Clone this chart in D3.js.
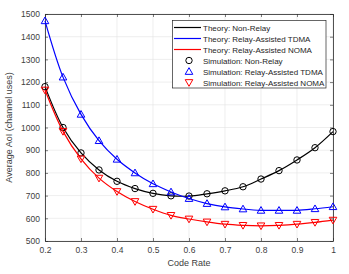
<!DOCTYPE html>
<html>
<head>
<meta charset="utf-8">
<script src="https://cdn.jsdelivr.net/npm/d3@7"></script>
<style>
  body { margin: 0; background: #fff; }
  svg { display: block; font-family: "Liberation Sans", Arial, sans-serif; }
</style>
</head>
<body>
<div id="chart"></div>
<script>
const width = 349;
const height = 274;
const margin = { top: 14, right: 16, bottom: 33, left: 45 };

const codeRate = [0.2, 0.25, 0.3, 0.35, 0.4, 0.45, 0.5, 0.55, 0.6, 0.65, 0.7, 0.75, 0.8, 0.85, 0.9, 0.95, 1.0];
const nonRelay = [1180, 1000, 888, 813, 763, 731, 710, 699, 698, 708, 721, 739, 773, 810, 857, 911, 982];
const relayTDMA = [1470, 1222, 1058, 942, 860, 800, 752, 716, 687, 665, 650, 641, 635, 635, 635, 642, 651];
const relayNOMA = [1165, 983, 862, 777, 718, 674, 640, 613, 597, 584, 574, 569, 567, 569, 574, 582, 592];

const xTicks = [0.2, 0.3, 0.4, 0.5, 0.6, 0.7, 0.8, 0.9, 1];
const yTicks = [500, 600, 700, 800, 900, 1000, 1100, 1200, 1300, 1400, 1500];

const series = [
  { name: "Non-Relay", values: nonRelay, color: "#000000", marker: "circle" },
  { name: "Relay-Assisted TDMA", values: relayTDMA, color: "#0000ff", marker: "up" },
  { name: "Relay-Assisted NOMA", values: relayNOMA, color: "#ff0000", marker: "down" }
];

const svg = d3.select("#chart").append("svg")
  .attr("width", width)
  .attr("height", height);

const x = d3.scaleLinear().domain([0.2, 1]).range([margin.left, width - margin.right]);
const y = d3.scaleLinear().domain([500, 1500]).range([height - margin.bottom, margin.top]);

const axisColor = "#262626";

// grid
svg.append("g").selectAll("line").data(xTicks).enter().append("line")
  .attr("x1", d => x(d)).attr("x2", d => x(d))
  .attr("y1", y(500)).attr("y2", y(1500))
  .attr("stroke", "#e3e3e3").attr("stroke-width", 0.6);
svg.append("g").selectAll("line").data(yTicks).enter().append("line")
  .attr("x1", x(0.2)).attr("x2", x(1))
  .attr("y1", d => y(d)).attr("y2", d => y(d))
  .attr("stroke", "#e3e3e3").attr("stroke-width", 0.6);

// axes with inner ticks
const xAxis = svg.append("g")
  .attr("transform", `translate(0,${y(500)})`)
  .call(d3.axisBottom(x).tickValues(xTicks).tickSizeInner(-3).tickSizeOuter(0).tickPadding(6).tickFormat(d3.format("~g")));
const xAxisTop = svg.append("g")
  .attr("transform", `translate(0,${y(1500)})`)
  .call(d3.axisTop(x).tickValues(xTicks).tickSizeInner(-3).tickSizeOuter(0).tickFormat(""));
const yAxis = svg.append("g")
  .attr("transform", `translate(${x(0.2)},0)`)
  .call(d3.axisLeft(y).tickValues(yTicks).tickSizeInner(-3).tickSizeOuter(0).tickPadding(5).tickFormat(d3.format("d")));
const yAxisRight = svg.append("g")
  .attr("transform", `translate(${x(1)},0)`)
  .call(d3.axisRight(y).tickValues(yTicks).tickSizeInner(-3).tickSizeOuter(0).tickFormat(""));

[xAxis, xAxisTop, yAxis, yAxisRight].forEach(g => {
  g.select(".domain").attr("stroke", axisColor).attr("stroke-width", 0.8);
  g.selectAll(".tick line").attr("stroke", axisColor).attr("stroke-width", 0.6);
  g.selectAll(".tick text").attr("fill", "#404040").style("font-size", "8.5px").style("font-family", "Liberation Sans, Arial, sans-serif");
});

// axis labels
svg.append("text")
  .attr("x", (x(0.2) + x(1)) / 2)
  .attr("y", 266)
  .attr("text-anchor", "middle")
  .attr("fill", "#404040")
  .style("font-size", "9px")
  .text("Code Rate");

svg.append("text")
  .attr("transform", `translate(12,${(y(500) + y(1500)) / 2}) rotate(-90)`)
  .attr("text-anchor", "middle")
  .attr("fill", "#404040")
  .style("font-size", "9px")
  .text("Average AoI (channel uses)");

const line = d3.line().x((d, i) => x(codeRate[i])).y(d => y(d)).curve(d3.curveCatmullRom);

function drawMarker(g, type, cx, cy, color) {
  if (type === "circle") {
    g.append("circle").attr("cx", cx).attr("cy", cy).attr("r", 3.2)
      .attr("fill", "none").attr("stroke", color).attr("stroke-width", 1);
  } else {
    const s = 3.8;
    const pts = type === "up"
      ? [[cx, cy - s], [cx - s, cy + s * 0.75], [cx + s, cy + s * 0.75]]
      : [[cx, cy + s], [cx - s, cy - s * 0.75], [cx + s, cy - s * 0.75]];
    g.append("polygon").attr("points", pts.map(p => p.join(",")).join(" "))
      .attr("fill", "none").attr("stroke", color).attr("stroke-width", 1);
  }
}

series.forEach(s => {
  svg.append("path")
    .datum(s.values)
    .attr("d", line)
    .attr("fill", "none")
    .attr("stroke", s.color)
    .attr("stroke-width", 1.2);
  const mg = svg.append("g");
  s.values.forEach((v, i) => drawMarker(mg, s.marker, x(codeRate[i]), y(v), s.color));
});

// legend
const legend = svg.append("g");
legend.append("rect")
  .attr("x", 172.5).attr("y", 20.5).attr("width", 153.5).attr("height", 67.5)
  .attr("fill", "#fff").attr("stroke", axisColor).attr("stroke-width", 0.7);

const legendItems = [
  ...series.map(s => ({ label: "Theory: " + s.name, color: s.color, kind: "line" })),
  ...series.map(s => ({ label: "Simulation: " + s.name, color: s.color, kind: s.marker }))
];

legendItems.forEach((d, i) => {
  const ly = 27.5 + i * 11;
  if (d.kind === "line") {
    legend.append("line").attr("x1", 174).attr("x2", 201).attr("y1", ly).attr("y2", ly)
      .attr("stroke", d.color).attr("stroke-width", 1.2);
  } else {
    drawMarker(legend, d.kind, 189, ly, d.color);
  }
  legend.append("text")
    .attr("x", 203).attr("y", ly + 3)
    .attr("fill", axisColor)
    .style("font-size", "8px")
    .text(d.label);
});
</script>
</body>
</html>
